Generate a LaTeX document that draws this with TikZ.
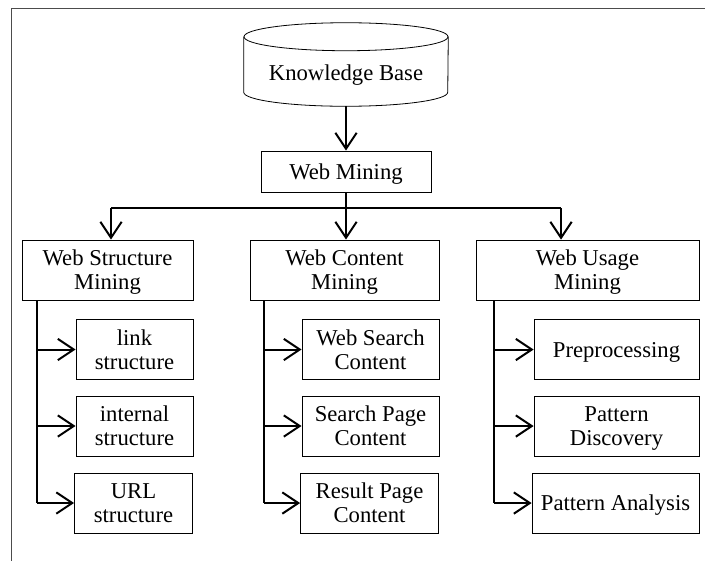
\documentclass[tikz,border=0pt]{standalone}
\usepackage{fontspec}
\setmainfont{Liberation Serif}
\usetikzlibrary{arrows.meta}

\tikzset{
  box/.style={draw, line width=0.6pt, align=center, inner sep=0pt, text depth=0pt, minimum height=45pt},
  link/.style={line width=1.5pt, -{Straight Barb[length=12pt,width=16pt]}},
  trunk/.style={line width=1.5pt},
  pageframe/.style={draw=black!70, line width=0.75pt}
}

\begin{document}
\begin{tikzpicture}[x=0.75pt, y=-0.75pt, font=\fontsize{17}{18}\selectfont]
	\useasboundingbox (0,0) rectangle (705,561);
	\draw[pageframe] (705,8) -- (11.5,8) -- (11.5,561);

	% knowledge base (cylinder)
	\node[minimum width=153pt, minimum height=62.25pt, inner sep=0pt, text depth=0pt] (kb) at (346,64.5) {\raisebox{-6pt}[\height][0pt]{Knowledge Base}};
	\draw[line width=0.6pt] ([yshift=-10.5pt]kb.north west) -- ([yshift=10.5pt]kb.south west)
	  arc[start angle=180, end angle=0, x radius=102, y radius=14] -- ([yshift=-10.5pt]kb.north east);
	\draw[line width=0.6pt] ([yshift=-10.5pt]kb.north) ellipse[x radius=102, y radius=14];

	\node[box, minimum width=127.5pt, minimum height=30.75pt] (wm) at (346,171.5) {Web Mining};
	\draw[link] (kb) -- (wm);

	% second level
	\node[box, minimum width=128.25pt] (wsm) at (107.5,270) {Web Structure\\Mining};
	\node[box, minimum width=141.75pt] (wcm) at (344.5,270) {Web Content\\Mining};
	\node[box, minimum width=167.25pt] (wum) at (587.5,270) {Web Usage\\Mining};

	\coordinate (bar) at (346,208);
	\coordinate (barL) at (111,208);
	\coordinate (barR) at (561,208);
	\draw[trunk] (wm) -- (bar);
	\draw[trunk] (barL) -- (barR);
	\draw[link] (barL) -- (barL |- wsm.north);
	\draw[link] (bar) -- (bar |- wcm.north);
	\draw[link] (barR) -- (barR |- wum.north);

	% web structure mining
	\node[box, minimum width=87.75pt] (ls) at (134.5,349.5) {link\\structure};
	\node[box, minimum width=87.75pt] (is) at (134.5,426) {internal\\structure};
	\node[box, minimum width=88.5pt] (us) at (133.5,503) {URL\\structure};

	% web content mining
	\node[box, minimum width=102.75pt] (wsc) at (370.5,349.5) {Web Search\\Content};
	\node[box, minimum width=102.75pt] (spc) at (370.5,426) {Search Page\\Content};
	\node[box, minimum width=103.5pt] (rpc) at (369.5,503) {Result Page\\Content};

	% web usage mining
	\node[box, minimum width=123.75pt] (pp) at (616.5,349.5) {Preprocessing};
	\node[box, minimum width=123.75pt] (pd) at (616.5,426) {Pattern\\Discovery};
	\node[box, minimum width=125.25pt] (pa) at (615.5,503) {Pattern Analysis};

	\coordinate (sL) at (37,0);
	\coordinate (sC) at (264,0);
	\coordinate (sR) at (494,0);
	\draw[trunk] (sL |- wsm.south) -- (sL |- us.west);
	\draw[trunk] (sC |- wcm.south) -- (sC |- rpc.west);
	\draw[trunk] (sR |- wum.south) -- (sR |- pa.west);
	\foreach \n in {ls,is,us} \draw[link] (sL |- \n.west) -- (\n.west);
	\foreach \n in {wsc,spc,rpc} \draw[link] (sC |- \n.west) -- (\n.west);
	\foreach \n in {pp,pd,pa} \draw[link] (sR |- \n.west) -- (\n.west);
\end{tikzpicture}
\end{document}
